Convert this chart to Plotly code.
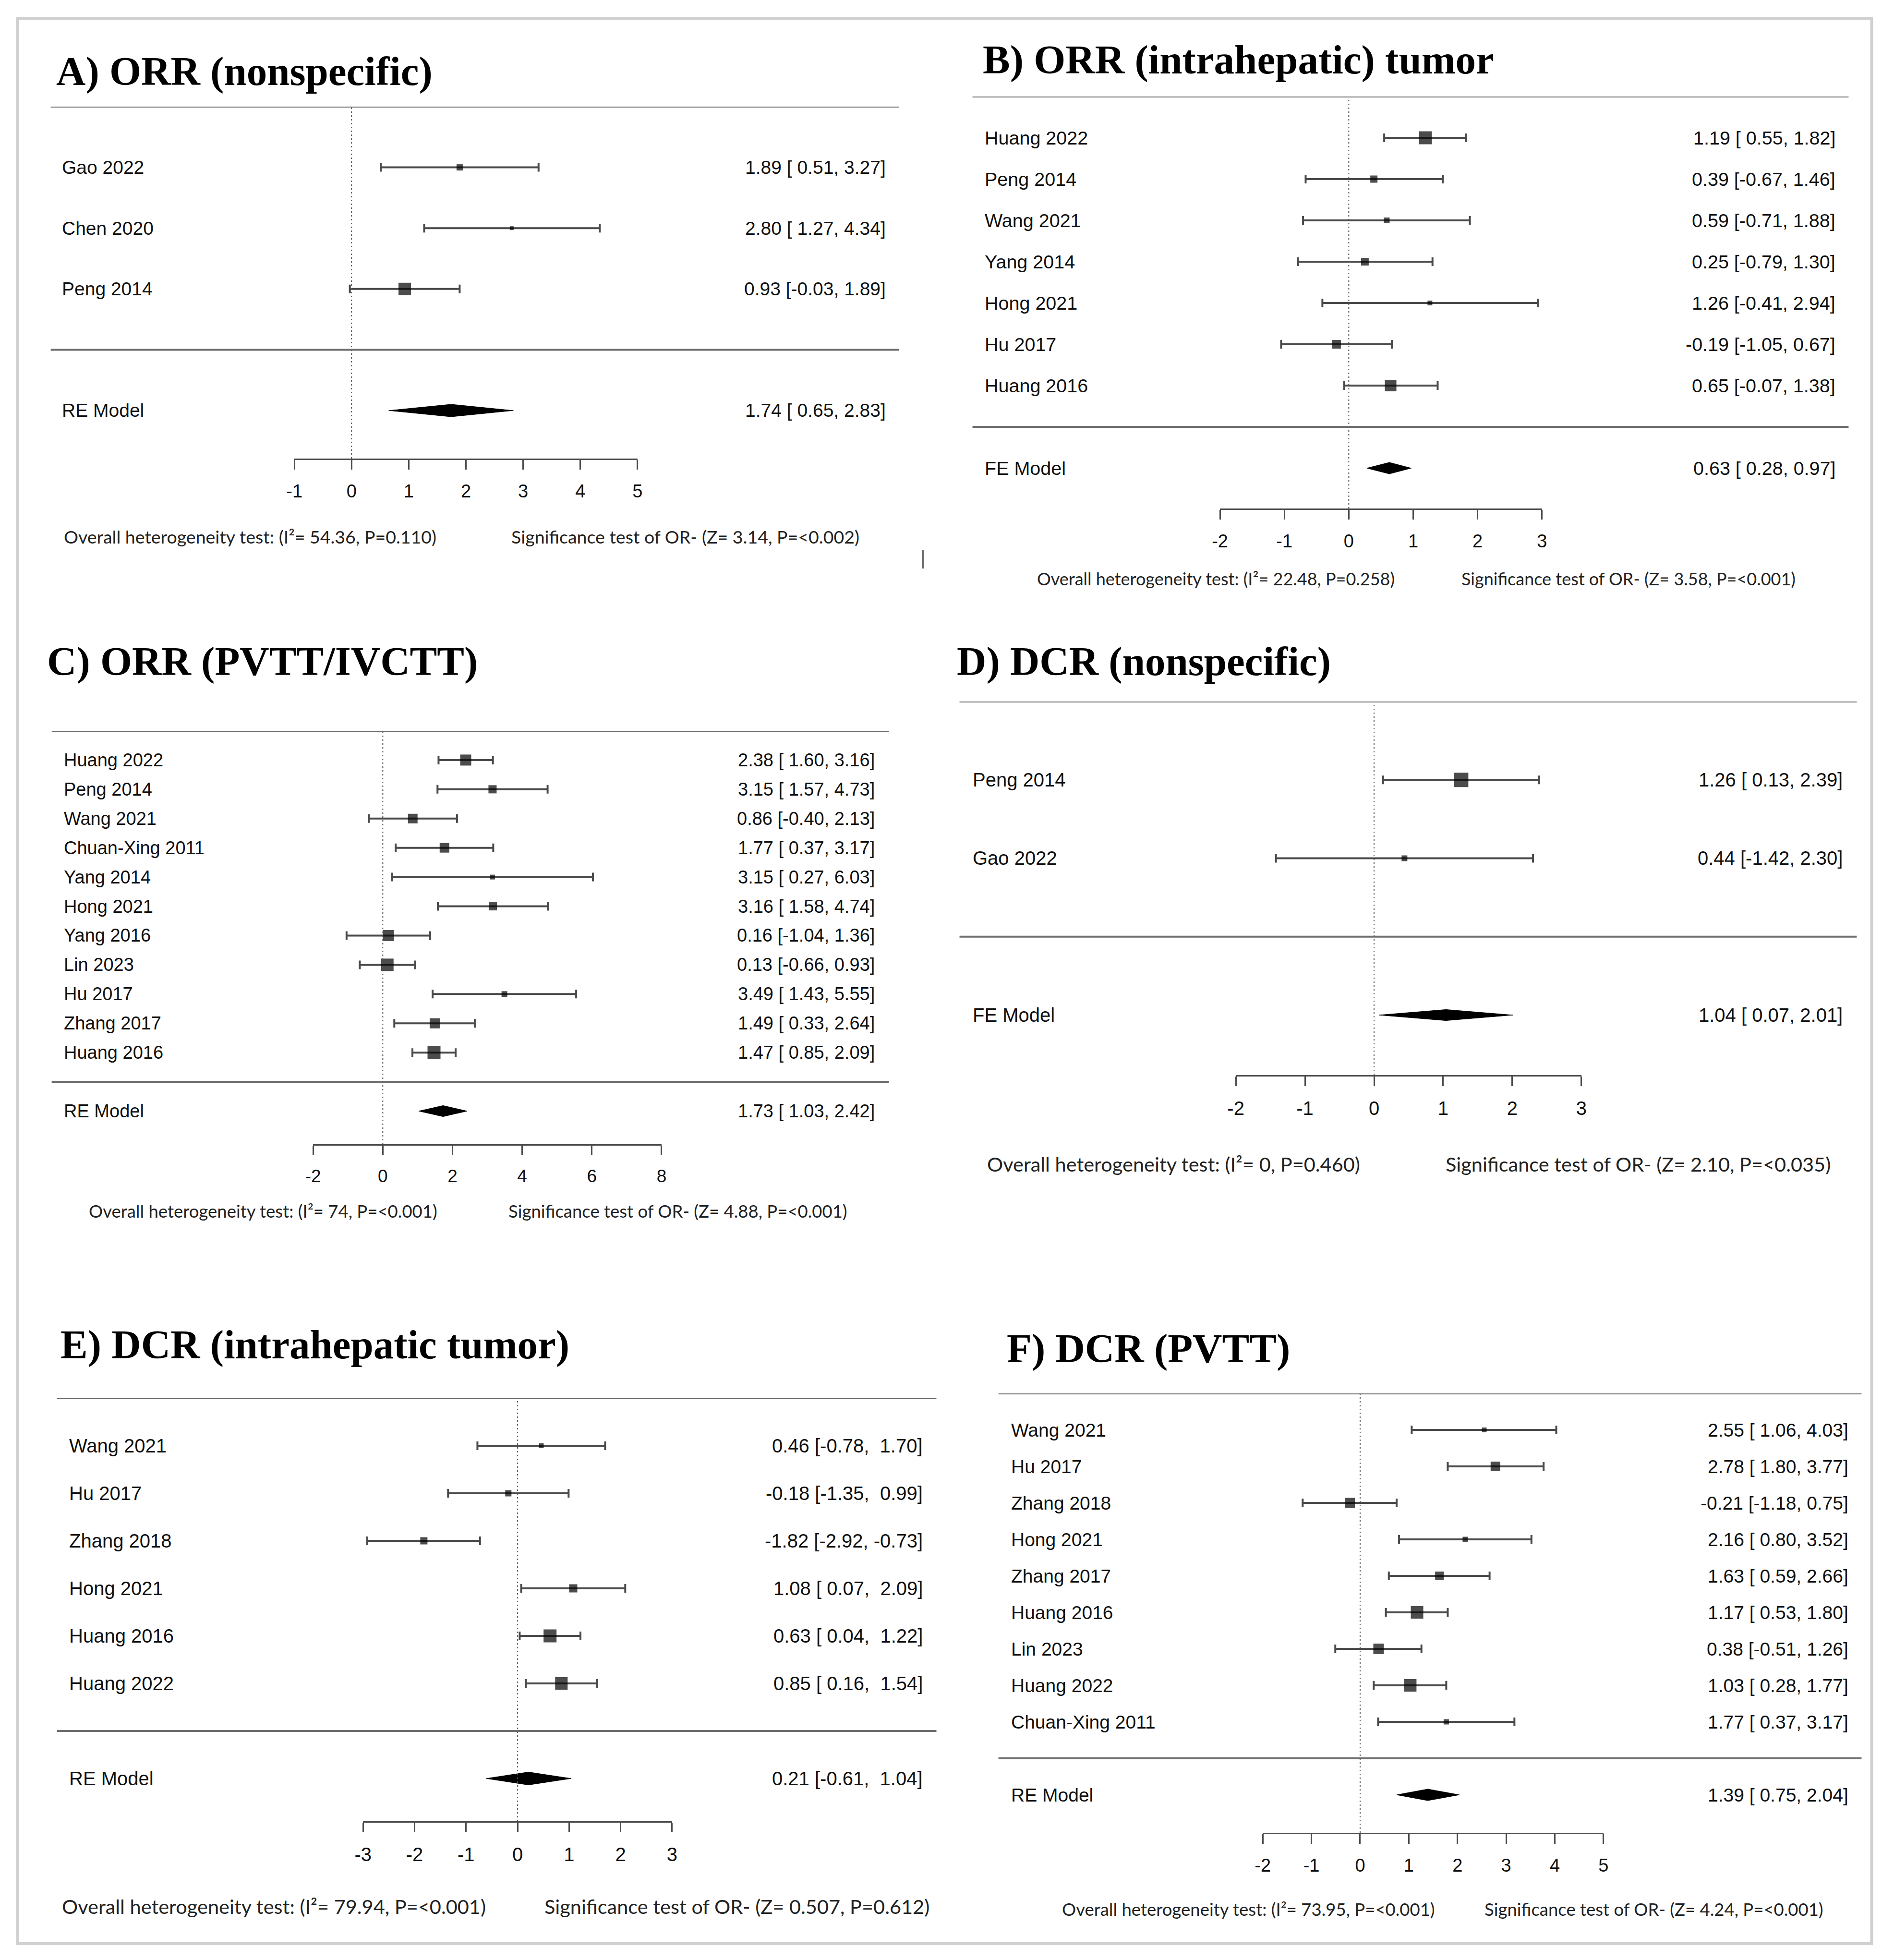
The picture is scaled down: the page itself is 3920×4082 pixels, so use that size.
import plotly.graph_objects as go

W, H = 3920, 4082

# ---------------- data ----------------
# A) ORR (nonspecific)
A_STUDIES = ["Gao 2022", "Chen 2020", "Peng 2014"]
A_EST = [1.89, 2.80, 0.93]
A_LO = [0.51, 1.27, -0.03]
A_HI = [3.27, 4.34, 1.89]
A_WEIGHT = [13, 8, 26]
A_MODEL = ["RE Model", 1.74, 0.65, 2.83]
A_TICKS = [-1, 0, 1, 2, 3, 4, 5]
A_STATS = ["54.36, P=0.110", "3.14, P=<0.002"]

# B) ORR (intrahepatic) tumor
B_STUDIES = ["Huang 2022", "Peng 2014", "Wang 2021", "Yang 2014", "Hong 2021", "Hu 2017", "Huang 2016"]
B_EST = [1.19, 0.39, 0.59, 0.25, 1.26, -0.19, 0.65]
B_LO = [0.55, -0.67, -0.71, -0.79, -0.41, -1.05, -0.07]
B_HI = [1.82, 1.46, 1.88, 1.30, 2.94, 0.67, 1.38]
B_WEIGHT = [27, 15, 12, 16, 10, 18, 24]
B_MODEL = ["FE Model", 0.63, 0.28, 0.97]
B_TICKS = [-2, -1, 0, 1, 2, 3]
B_STATS = ["22.48, P=0.258", "3.58, P=<0.001"]

# C) ORR (PVTT/IVCTT)
C_STUDIES = ["Huang 2022", "Peng 2014", "Wang 2021", "Chuan-Xing 2011", "Yang 2014", "Hong 2021",
             "Yang 2016", "Lin 2023", "Hu 2017", "Zhang 2017", "Huang 2016"]
C_EST = [2.38, 3.15, 0.86, 1.77, 3.15, 3.16, 0.16, 0.13, 3.49, 1.49, 1.47]
C_LO = [1.60, 1.57, -0.40, 0.37, 0.27, 1.58, -1.04, -0.66, 1.43, 0.33, 0.85]
C_HI = [3.16, 4.73, 2.13, 3.17, 6.03, 4.74, 1.36, 0.93, 5.55, 2.64, 2.09]
C_WEIGHT = [23, 17, 20, 20, 10, 17, 23, 26, 12, 21, 27]
C_MODEL = ["RE Model", 1.73, 1.03, 2.42]
C_TICKS = [-2, 0, 2, 4, 6, 8]
C_STATS = ["74, P=<0.001", "4.88, P=<0.001"]

# D) DCR (nonspecific)
D_STUDIES = ["Peng 2014", "Gao 2022"]
D_EST = [1.26, 0.44]
D_LO = [0.13, -1.42]
D_HI = [2.39, 2.30]
D_WEIGHT = [30, 12]
D_MODEL = ["FE Model", 1.04, 0.07, 2.01]
D_TICKS = [-2, -1, 0, 1, 2, 3]
D_STATS = ["0, P=0.460", "2.10, P=<0.035"]

# E) DCR (intrahepatic tumor)
E_STUDIES = ["Wang 2021", "Hu 2017", "Zhang 2018", "Hong 2021", "Huang 2016", "Huang 2022"]
E_EST = [0.46, -0.18, -1.82, 1.08, 0.63, 0.85]
E_LO = [-0.78, -1.35, -2.92, 0.07, 0.04, 0.16]
E_HI = [1.70, 0.99, -0.73, 2.09, 1.22, 1.54]
E_WEIGHT = [10, 13, 15, 17, 27, 26]
E_MODEL = ["RE Model", 0.21, -0.61, 1.04]
E_TICKS = [-3, -2, -1, 0, 1, 2, 3]
E_STATS = ["79.94, P=<0.001", "0.507, P=0.612"]

# F) DCR (PVTT)
F_STUDIES = ["Wang 2021", "Hu 2017", "Zhang 2018", "Hong 2021", "Zhang 2017", "Huang 2016",
             "Lin 2023", "Huang 2022", "Chuan-Xing 2011"]
F_EST = [2.55, 2.78, -0.21, 2.16, 1.63, 1.17, 0.38, 1.03, 1.77]
F_LO = [1.06, 1.80, -1.18, 0.80, 0.59, 0.53, -0.51, 0.28, 0.37]
F_HI = [4.03, 3.77, 0.75, 3.52, 2.66, 1.80, 1.26, 1.77, 3.17]
F_WEIGHT = [10, 20, 21, 11, 18, 26, 22, 26, 11]
F_MODEL = ["RE Model", 1.39, 0.75, 2.04]
F_TICKS = [-2, -1, 0, 1, 2, 3, 4, 5]
F_STATS = ["73.95, P=<0.001", "4.24, P=<0.001"]

TITLES = ["A) ORR (nonspecific)", "B) ORR (intrahepatic) tumor", "C) ORR (PVTT/IVCTT)",
          "D) DCR (nonspecific)", "E) DCR (intrahepatic tumor)", "F) DCR (PVTT)"]

# ---------------- panel placement (pixels of the full canvas) ----------------
PANELS = [
    dict(data=(A_STUDIES, A_EST, A_LO, A_HI, A_WEIGHT, A_MODEL, A_TICKS, A_STATS),
         title=(113, 148), sep=(104, 1869), top=222, model=855, axis=955, xdom=(611, 1325),
         lab_x=125, est_x=1844, foot_y=1117, foot_x=(129, 1060), foot_size=37.5, lab_size=39, tick_size=38, dia=13),
    dict(data=(B_STUDIES, B_EST, B_LO, B_HI, B_WEIGHT, B_MODEL, B_TICKS, B_STATS),
         title=(2041, 125), sep=(2022, 3845), top=201, model=975, axis=1059, xdom=(2537, 3207),
         lab_x=2045, est_x=3820, foot_y=1205, foot_x=(2154, 3037), foot_size=36, lab_size=39.5, tick_size=38, dia=12),
    dict(data=(C_STUDIES, C_EST, C_LO, C_HI, C_WEIGHT, C_MODEL, C_TICKS, C_STATS),
         title=(94, 1377), sep=(106, 1848), top=1522, model=2314, axis=2383, xdom=(650, 1375),
         lab_x=129, est_x=1821, foot_y=2522, foot_x=(181, 1054), foot_size=36.5, lab_size=38, tick_size=37, dia=11.5),
    dict(data=(D_STUDIES, D_EST, D_LO, D_HI, D_WEIGHT, D_MODEL, D_TICKS, D_STATS),
         title=(1987, 1377), sep=(1995, 3862), top=1461, model=2114, axis=2239, xdom=(2570, 3289),
         lab_x=2020, est_x=3835, foot_y=2424, foot_x=(2050, 3004), foot_size=41.5, lab_size=40, tick_size=40, dia=11.5),
    dict(data=(E_STUDIES, E_EST, E_LO, E_HI, E_WEIGHT, E_MODEL, E_TICKS, E_STATS),
         title=(122, 2800), sep=(117, 1947), top=2912, model=3704, axis=3793, xdom=(754, 1397),
         lab_x=140, est_x=1921, foot_y=3970, foot_x=(125, 1129), foot_size=41.5, lab_size=40, tick_size=40, dia=13.5),
    dict(data=(F_STUDIES, F_EST, F_LO, F_HI, F_WEIGHT, F_MODEL, F_TICKS, F_STATS),
         title=(2091, 2808), sep=(2076, 3872), top=2902, model=3738, axis=3817, xdom=(2626, 3335),
         lab_x=2100, est_x=3847, foot_y=3976, foot_x=(2206, 3085), foot_size=36.5, lab_size=39, tick_size=38, dia=12),
]

LABEL_FONT = "Liberation Sans, Arial, sans-serif"
TITLE_FONT = "Liberation Serif, Times New Roman, serif"
FOOT_FONT = "Lato, Liberation Sans, sans-serif"
LINE_GREY = "#6e6e6e"
CI_GREY = "#4a4a4a"
NBSP = "\u00a0"

# the captured page comes out a little narrower than the canvas, squeezed about
# its centre; stretch horizontal positions to cancel it
X_SQUEEZE = 0.9916


def px_x(x):
    return (W / 2 + (x - W / 2) / X_SQUEEZE) / W


def px_y(y):
    return 1 - y / H


def pad_column(vals):
    s = [f"{v:.2f}" for v in vals]
    w = max(len(t) for t in s)
    return [t.rjust(w) for t in s]


fig = go.Figure()
annotations = []
shapes = []

for i, p in enumerate(PANELS, start=1):
    studies, est, lo, hi, weight, model, ticks, stats = p["data"]
    sfx = "" if i == 1 else str(i)
    xa, ya = "x" + sfx, "y" + sfx
    k = len(studies)
    rows = list(range(k))
    model_row = k + 1

    # row spacing in pixels -> where the axis line sits in row units
    spacing = (p["model"] - p["top"]) / (model_row + 1)
    axis_row = (p["axis"] - p["top"]) / spacing - 1

    fig.update_layout(**{
        "xaxis" + sfx: dict(
            domain=[px_x(p["xdom"][0]), px_x(p["xdom"][1])], anchor=ya,
            range=[ticks[0], ticks[-1]], tickmode="array", tickvals=ticks,
            ticktext=[str(t) for t in ticks],
            showgrid=False, zeroline=False, showline=True, linecolor="#4d4d4d", linewidth=3,
            ticks="outside", ticklen=20, tickwidth=3, tickcolor="#4d4d4d",
            tickfont=dict(family=LABEL_FONT, size=p["tick_size"], color="#111111"),
            ticklabelstandoff=12,
        ),
        "yaxis" + sfx: dict(
            domain=[px_y(p["axis"]), px_y(p["top"])], anchor=xa,
            range=[axis_row, -1], visible=False, showgrid=False, zeroline=False,
        ),
    })

    # confidence intervals
    fig.add_trace(go.Scatter(
        x=est, y=rows, xaxis=xa, yaxis=ya, mode="markers",
        marker=dict(size=1, color="rgba(0,0,0,0)"),
        error_x=dict(type="data", symmetric=False,
                     array=[h - e for h, e in zip(hi, est)],
                     arrayminus=[e - l for e, l in zip(est, lo)],
                     color=CI_GREY, thickness=4, width=9),
        hoverinfo="skip", showlegend=False,
    ))
    # weighted squares on top
    fig.add_trace(go.Scatter(
        x=est, y=rows, xaxis=xa, yaxis=ya, mode="markers",
        marker=dict(symbol="square", size=weight, color="black", line=dict(width=0)),
        hoverinfo="skip", showlegend=False,
    ))

    # summary diamond
    m_label, m_est, m_lo, m_hi = model
    half = p["dia"] / spacing
    fig.add_trace(go.Scatter(
        x=[m_lo, m_est, m_hi, m_est, m_lo],
        y=[model_row, model_row - half, model_row, model_row + half, model_row],
        xaxis=xa, yaxis=ya, mode="lines", fill="toself", fillcolor="black",
        line=dict(color="black", width=1), hoverinfo="skip", showlegend=False,
    ))

    # reference line at 0
    shapes.append(dict(type="line", xref=xa, yref=ya + " domain", x0=0, x1=0, y0=0, y1=1,
                       line=dict(color="#555555", width=2, dash="3px,5px")))
    # separators
    for yr in (-1, k):
        shapes.append(dict(type="line", xref="paper", yref=ya,
                           x0=px_x(p["sep"][0]), x1=px_x(p["sep"][1]), y0=yr, y1=yr,
                           line=dict(color=LINE_GREY, width=4)))

    # study labels and estimate text
    e_txt = [f"{v:.2f}" for v in est + [m_est]]
    l_txt = pad_column(lo + [m_lo])
    h_txt = pad_column(hi + [m_hi])
    names = studies + [m_label]
    for r, name, e, l, h in zip(rows + [model_row], names, e_txt, l_txt, h_txt):
        annotations.append(dict(text=name, xref="paper", yref=ya, x=px_x(p["lab_x"]), y=r,
                                xanchor="left", yanchor="middle", showarrow=False,
                                font=dict(family=LABEL_FONT, size=p["lab_size"], color="#111111")))
        txt = f"{e} [{l}, {h}]".replace(" ", NBSP)
        annotations.append(dict(text=txt, xref="paper", yref=ya, x=px_x(p["est_x"]), y=r,
                                xanchor="right", yanchor="middle", showarrow=False,
                                font=dict(family=LABEL_FONT, size=p["lab_size"], color="#111111")))

    # title
    annotations.append(dict(text=TITLES[i - 1], xref="paper", yref="paper",
                            x=px_x(p["title"][0]), y=px_y(p["title"][1]),
                            xanchor="left", yanchor="middle", showarrow=False,
                            font=dict(family=TITLE_FONT, size=85, color="black", weight="bold")))

    # heterogeneity / significance footers
    het, sig = stats
    foot = [f"Overall heterogeneity test: (I\u00b2= {het})", f"Significance test of OR- (Z= {sig})"]
    for fx, t in zip(p["foot_x"], foot):
        annotations.append(dict(text=t, xref="paper", yref="paper", x=px_x(fx), y=px_y(p["foot_y"]),
                                xanchor="left", yanchor="middle", showarrow=False,
                                font=dict(family=FOOT_FONT, size=p["foot_size"], color="#222222")))

# outer frame and a stray mark between panels A and B
shapes.append(dict(type="rect", xref="paper", yref="paper", x0=px_x(35), x1=px_x(3893),
                   y0=px_y(4048), y1=px_y(38), line=dict(color="#d0d0d0", width=6)))
shapes.append(dict(type="line", xref="paper", yref="paper", x0=px_x(1919), x1=px_x(1919),
                   y0=px_y(1184), y1=px_y(1145), line=dict(color="#666666", width=3)))

fig.update_layout(
    width=W, height=H, margin=dict(l=0, r=0, t=0, b=0),
    paper_bgcolor="white", plot_bgcolor="rgba(0,0,0,0)",
    showlegend=False, annotations=annotations, shapes=shapes,
)

# keep the page exactly the size of the figure (no body margin, no resize, no toolbar)
fig.write_html("out.html", config={"responsive": False, "displayModeBar": False},
               post_script="document.body.style.margin = '0';")
